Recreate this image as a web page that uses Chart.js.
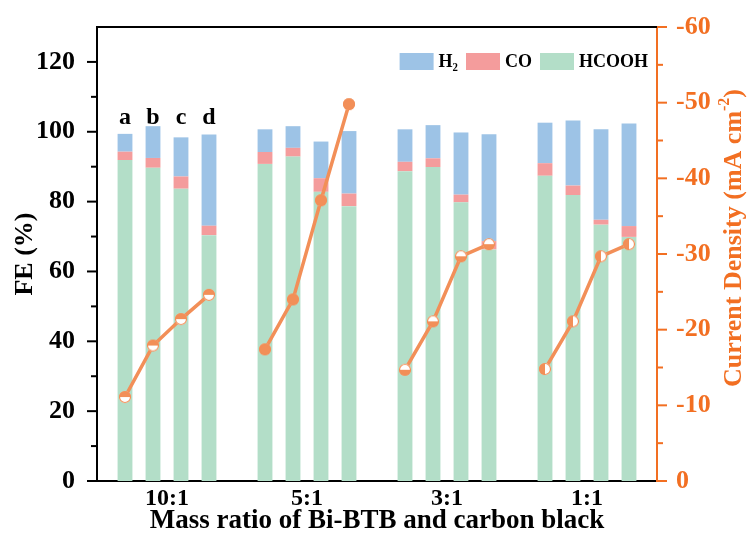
<!DOCTYPE html>
<html>
<head>
<meta charset="utf-8">
<title>FE and current density vs. mass ratio</title>
<script src="https://cdn.jsdelivr.net/npm/chart.js@4.4.1/dist/chart.umd.min.js"></script>
<style>
  html, body { margin: 0; padding: 0; background: #ffffff; }
  canvas { display: block; }
</style>
</head>
<body>
<canvas id="chart" width="748" height="545"></canvas>
<script>
// ---- data ----
const groups = ['10:1', '5:1', '3:1', '1:1'];
const sampleTags = ['a', 'b', 'c', 'd'];
const feHCOOH = [91.9, 89.7, 83.7, 70.4, 90.8, 92.9, 82.8, 78.7, 88.7, 89.9, 79.8, 66.3, 87.4, 81.9, 73.4, 69.9];
const feCO    = [2.4, 2.8, 3.5, 2.7, 3.4, 2.5, 3.9, 3.6, 2.7, 2.5, 2.2, 2.4, 3.6, 2.7, 1.4, 3.1];
const feH2    = [5.1, 9.1, 11.2, 26.1, 6.5, 6.2, 10.5, 17.9, 9.3, 9.5, 17.8, 30.6, 11.6, 18.6, 25.9, 29.4];
const currentDensity = [-11.1, -17.9, -21.4, -24.6, -17.4, -24.0, -37.1, -49.8, -14.7, -21.1, -29.7, -31.3, -14.8, -21.1, -29.7, -31.3];
const feTickLabels = [0, 20, 40, 60, 80, 100, 120];
const jTickLabels = [0, -10, -20, -30, -40, -50, -60];

// ---- styling ----
const SERIF = '"Liberation Serif", "Times New Roman", serif';
const C_H2 = '#9DC3E6';
const C_CO = '#F49C9C';
const C_HCOOH = '#B3DEC8';
const C_LINE = '#F28F58';
const C_AXIS2 = '#F26F22';

// four bars per ratio, one empty slot between ratios on a linear x scale
const perGroup = sampleTags.length;
const slot = perGroup + 1;
const xOf = i => Math.floor(i / perGroup) * slot + (i % perGroup) + 1;
const groupCenters = groups.map((g, k) => k * slot + (perGroup + 1) / 2);

const barPoints = arr => arr.map((v, i) => ({ x: xOf(i), y: v }));

// current-density line, broken between ratio groups
const linePoints = [];
currentDensity.forEach((v, i) => {
  if (i > 0 && i % perGroup === 0) linePoints.push({ x: xOf(i) - 1, y: null });
  linePoints.push({ x: xOf(i), y: v });
});

// marker glyphs: half-filled circles, different half per ratio group
function makeMarker(kind) {
  const r = 6, s = 2 * r + 2;
  const c = document.createElement('canvas');
  c.width = s; c.height = s;
  const g = c.getContext('2d');
  const m = s / 2;
  g.beginPath(); g.arc(m, m, r, 0, Math.PI * 2);
  g.fillStyle = '#ffffff'; g.fill();
  g.save();
  g.beginPath(); g.arc(m, m, r, 0, Math.PI * 2); g.clip();
  g.fillStyle = C_LINE;
  if (kind === 'full') g.fillRect(0, 0, s, s);
  if (kind === 'top') g.fillRect(0, 0, s, m);
  if (kind === 'bottom') g.fillRect(0, m, s, s);
  if (kind === 'left') g.fillRect(0, 0, m, s);
  g.restore();
  g.beginPath(); g.arc(m, m, r - 0.5, 0, Math.PI * 2);
  g.strokeStyle = C_LINE; g.lineWidth = 1.2; g.stroke();
  return c;
}
const groupMarkers = ['top', 'full', 'bottom', 'left'].map(makeMarker);

// frame, tick marks, sample tags, legend and right-hand title
const decorations = {
  id: 'decorations',
  afterDatasetsDraw(chart) {
    const { ctx, scales: { x, y } } = chart;
    ctx.save();
    ctx.fillStyle = '#000';
    ctx.font = 'bold 24px ' + SERIF;
    ctx.textAlign = 'center';
    ctx.textBaseline = 'alphabetic';
    sampleTags.forEach((t, j) => {
      ctx.fillText(t, x.getPixelForValue(xOf(j)), y.getPixelForValue(102.3));
    });
    ctx.restore();
  },
  afterDraw(chart) {
    const { ctx, chartArea: a, scales: { y, y2 } } = chart;
    ctx.save();
    // top border
    ctx.strokeStyle = '#000';
    ctx.lineWidth = 2;
    ctx.beginPath(); ctx.moveTo(a.left - 1, a.top); ctx.lineTo(a.right, a.top); ctx.stroke();
    // left tick marks (major / minor)
    y.ticks.forEach(t => {
      if (t.value > 120) return;
      const p = y.getPixelForValue(t.value);
      const len = t.value % 20 === 0 ? 10 : 6;
      ctx.beginPath(); ctx.moveTo(a.left - len, p); ctx.lineTo(a.left, p); ctx.stroke();
    });
    // right tick marks
    ctx.strokeStyle = C_AXIS2;
    y2.ticks.forEach(t => {
      const p = y2.getPixelForValue(t.value);
      const len = t.value % 10 === 0 ? 10 : 6;
      ctx.beginPath(); ctx.moveTo(a.right, p); ctx.lineTo(a.right + len, p); ctx.stroke();
    });

    // legend (top of stack first)
    const items = chart.data.datasets.filter(d => d.type !== 'line').slice().reverse();
    ctx.font = 'bold 18px ' + SERIF;
    ctx.textBaseline = 'middle';
    ctx.textAlign = 'left';
    const boxW = 34, boxH = 17, gapText = 5, gapItem = 8;
    const widths = items.map(d => boxW + gapText + ctx.measureText(d.label).width);
    let xPos = a.right - 9 - widths.reduce((s, w) => s + w, 0) - gapItem * (items.length - 1);
    const boxTop = a.top + 26;
    items.forEach((d, k) => {
      ctx.fillStyle = d.backgroundColor;
      ctx.fillRect(xPos, boxTop, boxW, boxH);
      ctx.fillStyle = '#000';
      ctx.fillText(d.label, xPos + boxW + gapText, boxTop + boxH / 2 + 1);
      xPos += widths[k] + gapItem;
    });

    // right axis title, reading bottom to top, with superscript
    const main = 'Current Density (mA cm';
    const sup = '-2';
    const tail = ')';
    const fMain = 'bold 26px ' + SERIF;
    const fSup = 'bold 16px ' + SERIF;
    ctx.font = fMain;
    const wMain = ctx.measureText(main).width;
    const wTail = ctx.measureText(tail).width;
    ctx.font = fSup;
    const wSup = ctx.measureText(sup).width;
    const total = wMain + wSup + wTail;
    ctx.translate(734, 238);
    ctx.rotate(-Math.PI / 2);
    ctx.fillStyle = C_AXIS2;
    ctx.textBaseline = 'middle';
    let tx = -total / 2;
    ctx.font = fMain; ctx.fillText(main, tx, 0); tx += wMain;
    ctx.font = fSup; ctx.fillText(sup, tx, -9); tx += wSup;
    ctx.font = fMain; ctx.fillText(tail, tx, 0);
    ctx.restore();
  }
};

const barCommon = { type: 'bar', xAxisID: 'x', yAxisID: 'y', order: 1, barPercentage: 1, categoryPercentage: 0.53 };

new Chart(document.getElementById('chart'), {
  data: {
    datasets: [
      { ...barCommon, label: 'HCOOH', data: barPoints(feHCOOH), backgroundColor: C_HCOOH },
      { ...barCommon, label: 'CO', data: barPoints(feCO), backgroundColor: C_CO },
      { ...barCommon, label: 'H\u2082', data: barPoints(feH2), backgroundColor: C_H2 },
      {
        type: 'line', label: 'Current density', xAxisID: 'x', yAxisID: 'y2', order: 0,
        data: linePoints, spanGaps: false,
        borderColor: C_LINE, borderWidth: 3.5,
        pointStyle: ctx => groupMarkers[Math.floor((ctx.raw.x - 1) / slot)],
        pointRadius: 6
      }
    ]
  },
  options: {
    responsive: false,
    animation: false,
    devicePixelRatio: 1,
    layout: { padding: { top: 27, left: 0, right: 0, bottom: 0 } },
    plugins: { legend: { display: false }, tooltip: { enabled: false } },
    scales: {
      x: {
        type: 'linear', min: 0, max: slot * groups.length, stacked: true, offset: false,
        afterBuildTicks: s => { s.ticks = groupCenters.map(v => ({ value: v })); },
        afterFit: s => { s.height = 64; },
        grid: { display: false },
        border: { display: true, color: '#000', width: 2 },
        ticks: {
          autoSkip: false, maxRotation: 0, padding: -2, color: '#000',
          font: { family: SERIF, size: 24, weight: 'bold', lineHeight: 1 },
          callback: (v, i) => groups[i]
        },
        title: {
          display: true, text: 'Mass ratio of Bi-BTB and carbon black', color: '#000',
          font: { family: SERIF, size: 27, weight: 'bold' },
          padding: { top: 0, bottom: 8 }
        }
      },
      y: {
        position: 'left', min: 0, max: 130, stacked: true,
        afterFit: s => { s.width = 97; },
        grid: { display: false },
        border: { display: true, color: '#000', width: 2 },
        ticks: {
          stepSize: 10, autoSkip: false, padding: 14, color: '#000',
          font: { family: SERIF, size: 26, weight: 'bold', lineHeight: 1 },
          callback: v => feTickLabels.includes(v) ? String(v) : ''
        },
        title: {
          display: true, text: 'FE (%)', color: '#000',
          font: { family: SERIF, size: 26, weight: 'bold' },
          padding: { top: 10, bottom: 0 }
        }
      },
      y2: {
        position: 'right', min: -60, max: 0, reverse: true,
        afterFit: s => { s.width = 91; },
        grid: { display: false },
        border: { display: true, color: C_AXIS2, width: 2 },
        ticks: {
          stepSize: 5, autoSkip: false, padding: 11, color: C_AXIS2,
          font: { family: SERIF, size: 26, weight: 'bold', lineHeight: 1 },
          callback: v => jTickLabels.includes(v) ? String(v) : ''
        },
        title: { display: false }
      }
    }
  },
  plugins: [decorations]
});
</script>
</body>
</html>
